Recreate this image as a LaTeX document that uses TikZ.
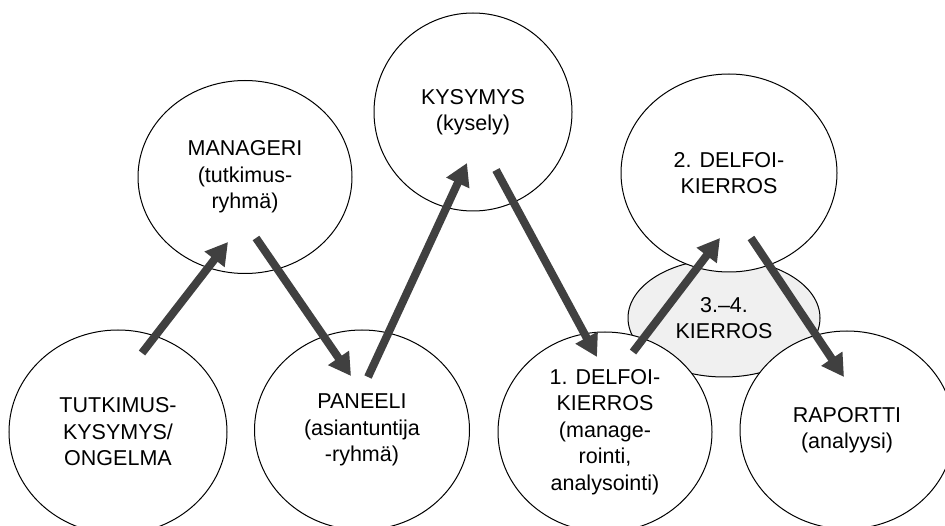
\documentclass[tikz,border=0pt]{standalone}
\usepackage{fontspec}
\setmainfont{Liberation Sans}
\usetikzlibrary{shapes.geometric,arrows.meta}
\definecolor{arrowgray}{RGB}{64,64,64}
\definecolor{roundgray}{RGB}{240,240,240}

\begin{document}
\begin{tikzpicture}[x=1pt, y=-1pt,
    bubble/.style={ellipse, draw, line width=1pt, fill=white, inner sep=0pt,
        align=center, font=\fontsize{21.5}{26.5}\selectfont},
    flow/.style={arrowgray, line width=8pt, -{Triangle[length=22pt,width=24pt]}}]
    \useasboundingbox (0,0) rectangle (945,526);
    \clip (0,0) rectangle (945,526);
    % the later rounds sit behind the others
    \node[bubble, fill=roundgray, minimum width=192pt, minimum height=118pt] (rounds) at (724,318) {3.--4.\\KIERROS};
    \node[bubble, minimum width=218pt, minimum height=204pt] (problem) at (118,432) {TUTKIMUS-\\KYSYMYS/\\ONGELMA};
    \node[bubble, minimum width=214pt, minimum height=193pt] (manager) at (245,177) {MANAGERI\\(tutkimus-\\ryhmä)};
    \node[bubble, minimum width=215pt, minimum height=200pt] (panel) at (362,430) {PANEELI\\(asiantuntija\\-ryhmä)};
    \node[bubble, minimum width=198pt, minimum height=198pt] (question) at (473,112) {KYSYMYS\\(kysely)};
    \node[bubble, minimum width=214pt, minimum height=200pt] (round1) at (605,432) {1. DELFOI-\\KIERROS\\(manage-\\rointi,\\analysointi)};
    \node[bubble, minimum width=216pt, minimum height=198pt] (round2) at (729,173) {2. DELFOI-\\KIERROS};
    \node[bubble, minimum width=214pt, minimum height=198pt] (report) at (847,430) {RAPORTTI\\(analyysi)};
    % arrows
    \draw[flow] ([shift={(24,-79)}]problem.center) -- ([shift={(-17,65)}]manager.center);
    \draw[flow] ([shift={(11,61)}]manager.center) -- ([shift={(-11,-54)}]panel.center);
    \draw[flow] ([shift={(6,-53)}]panel.center) -- ([shift={(-6,51)}]question.center);
    \draw[flow] ([shift={(23,58)}]question.center) -- ([shift={(-8,-75)}]round1.center);
    \draw[flow] ([shift={(28,-80)}]round1.center) -- ([shift={(-9,65)}]round2.center);
    \draw[flow] ([shift={(22,65)}]round2.center) -- ([shift={(-3,-53)}]report.center); % to report
\end{tikzpicture}
\end{document}
